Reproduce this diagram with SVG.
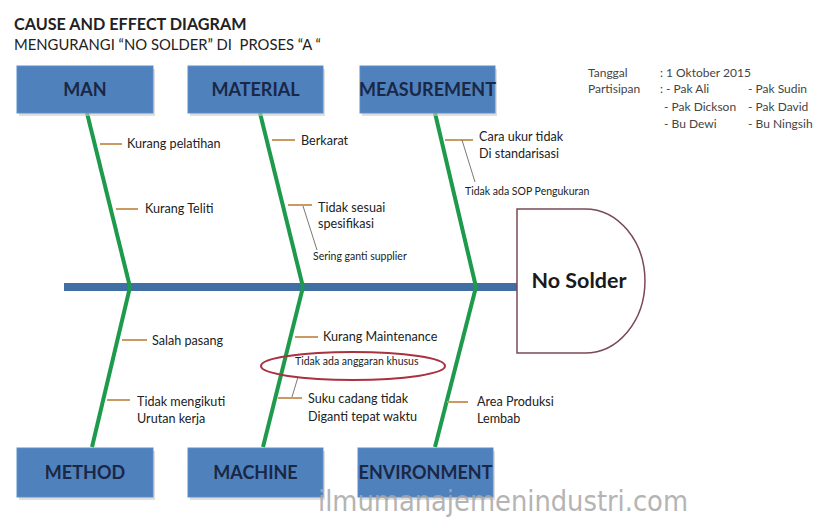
<svg xmlns="http://www.w3.org/2000/svg" width="817" height="517" viewBox="0 0 817 517">
<defs>
<style>
.t{font-family:Lato,"Liberation Sans",sans-serif;fill:#222}
.box rect.b{fill:#4f81bd;stroke:#5d8dc8;stroke-width:1}
.box rect.s{fill:#c9c9c9;opacity:.6}
.box text{font-family:Lato,"Liberation Sans",sans-serif;font-weight:bold;font-size:18px;fill:#1a2745;text-anchor:middle}
.bone{stroke:#1e9a4c;stroke-width:4;fill:none}
.tick{stroke:#c99a62;stroke-width:2}
.thin{stroke:#555;stroke-width:0.8}
.c{font-size:12.6px}
.sm{font-size:10.5px}
.info{font-family:Lato,"Liberation Sans",sans-serif;font-size:12px;fill:#444}
</style>
</defs>
<rect width="817" height="517" fill="#fff"/>
<text class="t" x="14" y="30" font-size="16.2" font-weight="bold" fill="#1a1a1a">CAUSE AND EFFECT DIAGRAM</text>
<text class="t" x="14" y="50" font-size="14.8" style="white-space:pre" xml:space="preserve">MENGURANGI “NO SOLDER” DI  PROSES “A “</text>
<g id="info" class="info">
<text x="588" y="77">Tanggal</text><text x="660" y="77">: 1 Oktober 2015</text>
<text x="588" y="93">Partisipan</text><text x="660" y="93">: - Pak Ali</text><text x="748" y="93">- Pak Sudin</text>
<text x="664" y="111">- Pak Dickson</text><text x="748" y="111">- Pak David</text>
<text x="664" y="128">- Bu Dewi</text><text x="748" y="128">- Bu Ningsih</text>
</g>
<g id="spine"><rect x="64" y="283" width="454" height="8" fill="#3f6fa3"/></g>
<g id="connectors">
<line class="bone" x1="87" y1="113" x2="130" y2="287"/>
<line class="bone" x1="130" y1="287" x2="92" y2="447"/>
<line class="bone" x1="260" y1="113" x2="303" y2="287"/>
<line class="bone" x1="303" y1="287" x2="263" y2="447"/>
<line class="bone" x1="435" y1="113" x2="476" y2="287"/>
<line class="bone" x1="476" y1="287" x2="435" y2="447"/>
<line class="tick" x1="100" y1="144" x2="122" y2="144"/>
<line class="tick" x1="116" y1="209" x2="138" y2="209"/>
<line class="tick" x1="272" y1="140" x2="295" y2="140"/>
<line class="tick" x1="288" y1="205" x2="312" y2="205"/>
<line class="thin" x1="303" y1="206" x2="317" y2="250"/>
<line class="tick" x1="445" y1="140" x2="473" y2="140"/>
<line class="thin" x1="462" y1="140" x2="475" y2="182"/>
<line class="tick" x1="122" y1="340" x2="147" y2="340"/>
<line class="tick" x1="107" y1="400" x2="130" y2="400"/>
<line class="tick" x1="295" y1="337" x2="318" y2="337"/>
<line class="tick" x1="278" y1="398" x2="302" y2="398"/>
<line class="thin" x1="298" y1="377" x2="292" y2="397"/>
<line class="tick" x1="447" y1="402" x2="468" y2="402"/>
</g>
<g id="causes" class="t">
<text class="c" x="127" y="148">Kurang pelatihan</text>
<text class="c" x="145" y="213">Kurang Teliti</text>
<text class="c" x="301" y="145">Berkarat</text>
<text class="c" x="318" y="212">Tidak sesuai</text>
<text class="c" x="318" y="228">spesifikasi</text>
<text class="sm" x="313" y="260">Sering ganti supplier</text>
<text class="c" x="479" y="141">Cara ukur tidak</text>
<text class="c" x="479" y="158">Di standarisasi</text>
<text class="sm" x="465" y="195">Tidak ada SOP Pengukuran</text>
<text class="c" x="152" y="345">Salah pasang</text>
<text class="c" x="137" y="406">Tidak mengikuti</text>
<text class="c" x="137" y="423">Urutan kerja</text>
<text class="c" x="323" y="341">Kurang Maintenance</text>
<text class="sm" x="295" y="365">Tidak ada anggaran khusus</text>
<text class="c" x="308" y="403">Suku cadang tidak</text>
<text class="c" x="308" y="421">Diganti tepat waktu</text>
<text class="c" x="477" y="406">Area Produksi</text>
<text class="c" x="477" y="423">Lembab</text>
</g>
<g id="highlight"><ellipse cx="353" cy="366" rx="92" ry="14" fill="none" stroke="#a8323e" stroke-width="2"/></g>
<g id="man" class="box"><rect class="s" x="19" y="69" width="136" height="47"/><rect class="b" x="17" y="66" width="136" height="47"/><text x="85" y="96">MAN</text></g>
<g id="material" class="box"><rect class="s" x="190" y="69" width="135" height="47"/><rect class="b" x="188" y="66" width="135" height="47"/><text x="255.5" y="96">MATERIAL</text></g>
<g id="measurement" class="box"><rect class="s" x="362" y="69" width="135" height="47"/><rect class="b" x="360" y="66" width="135" height="47"/><text x="427.5" y="96" font-size="17.5">MEASUREMENT</text></g>
<g id="method" class="box"><rect class="s" x="19" y="451" width="136" height="49"/><rect class="b" x="17" y="448" width="136" height="49"/><text x="85" y="479">METHOD</text></g>
<g id="machine" class="box"><rect class="s" x="190" y="451" width="135" height="49"/><rect class="b" x="188" y="448" width="135" height="49"/><text x="255.5" y="479">MACHINE</text></g>
<g id="environment" class="box"><rect class="s" x="360" y="451" width="135" height="49"/><rect class="b" x="358" y="448" width="135" height="49"/><text x="425.5" y="479" font-size="17.5">ENVIRONMENT</text></g>
<g id="head"><path d="M517,209 H585 A60,72 0 0 1 585,353 H517 Z" fill="#fff" stroke="#7a4a55" stroke-width="1.5"/><text x="579" y="288" font-family="Lato,'Liberation Sans',sans-serif" font-size="21.5" font-weight="bold" fill="#1a1a1a" text-anchor="middle">No Solder</text></g>
<text x="318" y="511" font-family="'DejaVu Sans Condensed','DejaVu Sans',sans-serif" font-size="28" textLength="370" lengthAdjust="spacingAndGlyphs" fill="#a8a8a8" opacity="0.85">ilmumanajemenindustri.com</text>
</svg>
